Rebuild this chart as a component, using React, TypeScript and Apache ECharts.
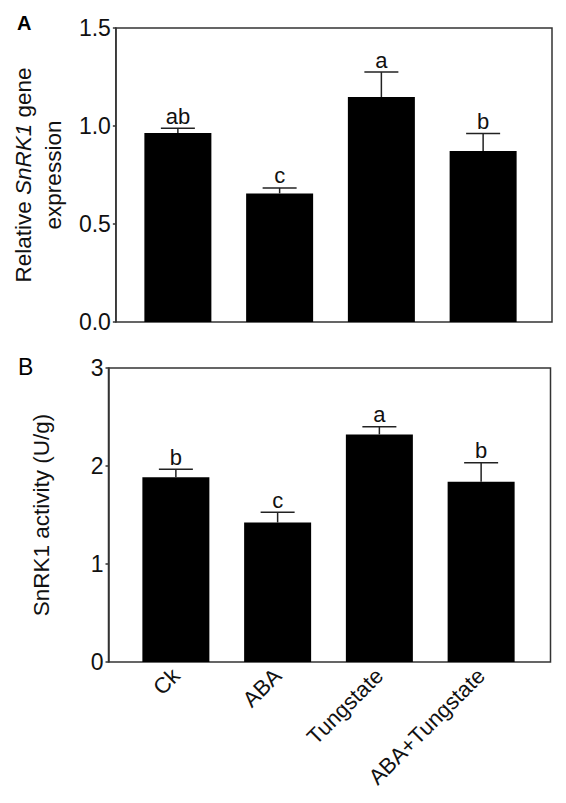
import React, { useEffect, useRef } from 'react';
import * as echarts from 'echarts';

const categories = ['Ck', 'ABA', 'Tungstate', 'ABA+Tungstate'];

// Panel A: relative SnRK1 gene expression
const geneValues = [0.964, 0.656, 1.148, 0.872];
const geneErrors = [0.024, 0.028, 0.127, 0.09];
const geneLetters = ['ab', 'c', 'a', 'b'];

// Panel B: SnRK1 activity (U/g)
const activityValues = [1.885, 1.423, 2.322, 1.84];
const activityErrors = [0.081, 0.106, 0.078, 0.194];
const activityLetters = ['b', 'c', 'a', 'b'];

const FONT = '"Liberation Sans", Arial, sans-serif';
const AXIS_COLOR = '#333';

const errorSeries = (
  values: number[],
  errors: number[],
  letters: string[],
  axisIndex: number
) => ({
  type: 'custom',
  xAxisIndex: axisIndex,
  yAxisIndex: axisIndex,
  z: 5,
  data: values.map((v, i) => [i, v, errors[i]]),
  renderItem: (params: any, api: any) => {
    const idx = api.value(0);
    const top = api.value(1);
    const err = api.value(2);
    const p0 = api.coord([idx, top]);
    const p1 = api.coord([idx, top + err]);
    const lineStyle = { stroke: '#222', lineWidth: 1.5 };
    return {
      type: 'group',
      children: [
        { type: 'line', shape: { x1: p0[0], y1: p0[1], x2: p1[0], y2: p1[1] }, style: lineStyle },
        { type: 'line', shape: { x1: p1[0] - 17, y1: p1[1], x2: p1[0] + 17, y2: p1[1] }, style: lineStyle },
        {
          type: 'text',
          x: p1[0],
          y: p1[1] - 1,
          style: {
            text: letters[params.dataIndex],
            textAlign: 'center',
            textVerticalAlign: 'bottom',
            fontSize: 22,
            fontFamily: FONT,
            fill: '#111',
          },
        },
      ],
    };
  },
});

const App = () => {
  const chartRef = useRef<HTMLDivElement>(null);

  useEffect(() => {
    if (!chartRef.current) return;
    const chart = echarts.init(chartRef.current, undefined, { renderer: 'svg' });

    const frameGrid = (left: number, top: number, width: number) => ({
      left,
      top,
      width,
      height: 294,
      show: true,
      borderColor: AXIS_COLOR,
      borderWidth: 1.5,
      backgroundColor: 'transparent',
    });

    const valueAxis = (grid: number, max: number, interval: number, decimals: number, name: any, nameGap: number) => ({
      type: 'value',
      gridIndex: grid,
      min: 0,
      max,
      interval,
      name,
      nameLocation: 'middle',
      nameGap,
      nameRotate: 90,
      nameTextStyle: {
        fontSize: 22.5,
        fontFamily: FONT,
        color: '#111',
        lineHeight: 30,
        rich: {
          it: { fontStyle: 'italic', fontSize: 22.5, fontFamily: FONT, color: '#111', lineHeight: 30 },
        },
      },
      axisLine: { show: true, lineStyle: { color: AXIS_COLOR, width: 1.5 } },
      axisTick: { show: true, inside: false, length: 3, lineStyle: { color: AXIS_COLOR, width: 1.5 } },
      axisLabel: {
        fontSize: 23,
        fontFamily: FONT,
        color: '#111',
        margin: 5,
        formatter: (v: number) => v.toFixed(decimals),
      },
      splitLine: { show: false },
    });

    const hiddenValue = (grid: number, max: number) => ({
      type: 'value',
      gridIndex: grid,
      min: 0,
      max,
      show: false,
    });

    const option: any = {
      animation: false,
      backgroundColor: '#fff',
      title: [
        { text: 'A', left: 12, top: 8, textStyle: { fontSize: 20, fontWeight: 'bold', fontFamily: FONT, color: '#000' } },
        { text: 'B', left: 13, top: 350, textStyle: { fontSize: 23, fontWeight: 'normal', fontFamily: FONT, color: '#000' } },
      ],
      grid: [
        frameGrid(110, 28, 442),
        { left: 127, top: 28, width: 407, height: 294 },
        frameGrid(108.5, 368, 442),
        { left: 125, top: 368, width: 407, height: 294 },
      ],
      xAxis: [
        { type: 'value', gridIndex: 0, show: false, min: 0, max: 1 },
        {
          type: 'category',
          gridIndex: 1,
          data: categories,
          axisLine: { show: false },
          axisTick: { show: false },
          axisLabel: { show: false },
        },
        { type: 'value', gridIndex: 2, show: false, min: 0, max: 1 },
        {
          type: 'category',
          gridIndex: 3,
          data: categories,
          axisLine: { show: false },
          axisTick: { show: false },
          axisLabel: {
            show: true,
            rotate: 45,
            interval: 0,
            fontSize: 22,
            fontFamily: FONT,
            color: '#111',
            margin: 10,
          },
        },
      ],
      yAxis: [
        valueAxis(0, 1.5, 0.5, 1, ['Relative {it|SnRK1} gene', 'expression'].join('\n'), 46),
        hiddenValue(1, 1.5),
        valueAxis(2, 3, 1, 0, 'SnRK1 activity (U/g)', 52),
        hiddenValue(3, 3),
      ],
      series: [
        {
          type: 'bar',
          xAxisIndex: 1,
          yAxisIndex: 1,
          data: geneValues,
          barWidth: 67,
          itemStyle: { color: '#000' },
        },
        errorSeries(geneValues, geneErrors, geneLetters, 1),
        {
          type: 'bar',
          xAxisIndex: 3,
          yAxisIndex: 3,
          data: activityValues,
          barWidth: 67,
          itemStyle: { color: '#000' },
        },
        errorSeries(activityValues, activityErrors, activityLetters, 3),
      ],
    };

    chart.setOption(option);
    return () => chart.dispose();
  }, []);

  return (
    <div
      ref={chartRef}
      style={{ position: 'absolute', left: 0, top: 0, width: '566px', height: '803px' }}
    />
  );
};

export default App;
